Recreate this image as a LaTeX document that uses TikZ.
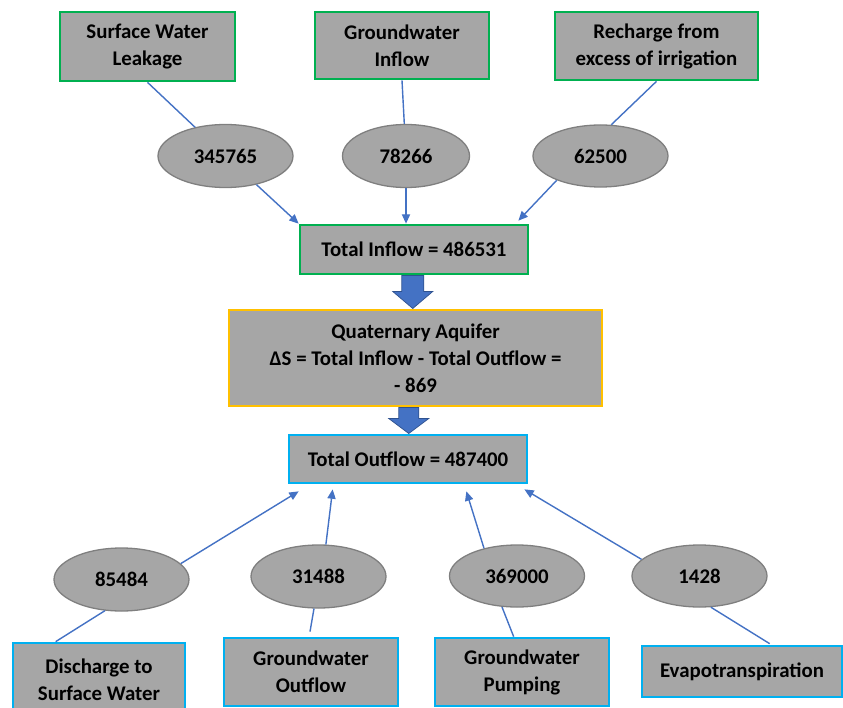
\documentclass[tikz,border=0pt]{standalone}
\usepackage{fontspec}
\setmainfont{Carlito}
\usepackage{xcolor}
\usepackage{tikz}
\usetikzlibrary{positioning, arrows.meta, shapes.geometric, calc}
\definecolor{boxgray}{HTML}{A6A6A6}
\definecolor{rimgray}{HTML}{7F7F7F}
\definecolor{ingreen}{HTML}{00B050}
\definecolor{outcyan}{HTML}{00B0F0}
\definecolor{aqorange}{HTML}{FFC000}
\definecolor{flowblue}{HTML}{4472C4}
\definecolor{flowdark}{HTML}{2F528F}

\begin{document}
\begin{tikzpicture}[
  x=0.03cm, y=-0.03cm,
  every node/.style={font=\fontsize{17.8}{23}\selectfont\bfseries},
  inbox/.style={draw=ingreen, line width=2.3pt, fill=boxgray, align=center, inner sep=0pt},
  outbox/.style={draw=outcyan, line width=2.3pt, fill=boxgray, align=center, inner sep=0pt},
  aqbox/.style={draw=aqorange, line width=2.3pt, fill=boxgray, align=center, inner sep=0pt},
  val/.style={ellipse, draw=rimgray, line width=1.1pt, fill=boxgray, inner sep=0pt,
    minimum width=4.05cm, minimum height=1.89cm},
  link/.style={draw=flowblue, line width=1.2pt},
  flow/.style={link, -{Triangle[length=8pt, width=7pt]}},
  bigarrow/.style={draw=flowdark, line width=0.6pt, fill=flowblue, line join=miter},
]
  \useasboundingbox (0,0) rectangle (843,708);

  \node[inbox, minimum width=5.25cm, minimum height=2.07cm] (swl) at (147.5,46.5)
    {Surface Water\\Leakage};
  \node[inbox, minimum width=5.22cm, minimum height=2.01cm] (gwi) at (402,45.5)
    {Groundwater\\Inflow};
  \node[inbox, minimum width=6.09cm, minimum height=2.04cm] (rec) at (656.5,46)
    {Recharge from\\excess of irrigation};

  \node[val] (e1) at (225.5,156) {345765};
  \node[val, minimum width=3.81cm] (e2) at (406,156) {78266};
  \node[val, minimum height=1.86cm] (e3) at (600.5,156) {62500};

  \node[inbox, minimum width=6.84cm, minimum height=1.47cm] (tin) at (414,249.5)
    {Total Inflow = 486531};
  \node[aqbox, minimum width=11.19cm, minimum height=2.88cm] (aq) at (415.5,358)
    {Quaternary Aquifer\\ΔS = Total Inflow - Total Outflow =\\- 869};
  \node[outbox, minimum width=7.14cm, minimum height=1.44cm] (tout) at (408,459)
    {Total Outflow = 487400};

  \coordinate (a1) at ($(tin.south)!0.5!(aq.north)+(-2,0)$);
  \coordinate (a2) at ($(aq.south)!0.5!(tout.north)+(-3,0)$);
  \draw[bigarrow] ($(a1)+(-11,-16.5)$) -- ++(22,0) -- ++(0,16) -- ++(9,0)
    -- ++(-20,17) -- ++(-20,-17) -- ++(9,0) -- cycle;
  \draw[bigarrow] ($(a2)+(-10,-13)$) -- ++(20,0) -- ++(0,11) -- ++(10,0)
    -- ++(-20,15) -- ++(-20,-15) -- ++(10,0) -- cycle;

  \node[val] (e4) at (121.5,579.5) {85484};
  \node[val] (e5) at (318.5,576.5) {31488};
  \node[val, minimum height=1.86cm] (e6) at (517,576) {369000};
  \node[val, minimum height=1.86cm] (e7) at (699.5,576) {1428};

  \node[outbox, minimum width=5.16cm, minimum height=2.22cm] (dis) at (99,680)
    {Discharge to\\Surface Water};
  \node[outbox, minimum width=5.22cm, minimum height=2.04cm] (gwo) at (311,672)
    {Groundwater\\Outflow};
  \node[outbox, minimum width=5.22cm, minimum height=2.04cm] (pump) at (522,672)
    {Groundwater\\Pumping};
  \node[outbox, minimum width=6cm, minimum height=1.53cm] (evap) at (742,671.5)
    {Evapotranspiration};

  \draw[link] (swl.south) -- (e1);
  \draw[flow] (e1) -- (tin.north west);
  \draw[link] (gwi.south) -- (e2);
  \draw[flow] (e2) -- (tin.north -| e2);
  \draw[link] (rec.south) -- (e3.71);
  \draw[flow] (e3.209) -- ($(tin.north east)+(-11,-3)$);

  \draw[flow] (e4.15) -- ($(tout.south west)+(11,7)$);
  \draw[flow] (e5.77) -- ($(tout.south west)+(45,5)$);
  \draw[flow] (e6.140) -- ($(tout.south east)+(-62,7)$);
  \draw[flow] (e7.164) -- ($(tout.south east)+(-4,5)$);
  \draw[link] ($(dis.north west)+(44,0)$) -- (e4.242);
  \draw[link] ($(gwo.north)+(-1,-5)$) -- (e5.262);
  \draw[link] ($(pump.north west)+(80,0)$) -- (e6.244);
  \draw[link] ($(evap.north west)+(129,-1)$) -- (e7.290);
\end{tikzpicture}
\end{document}
